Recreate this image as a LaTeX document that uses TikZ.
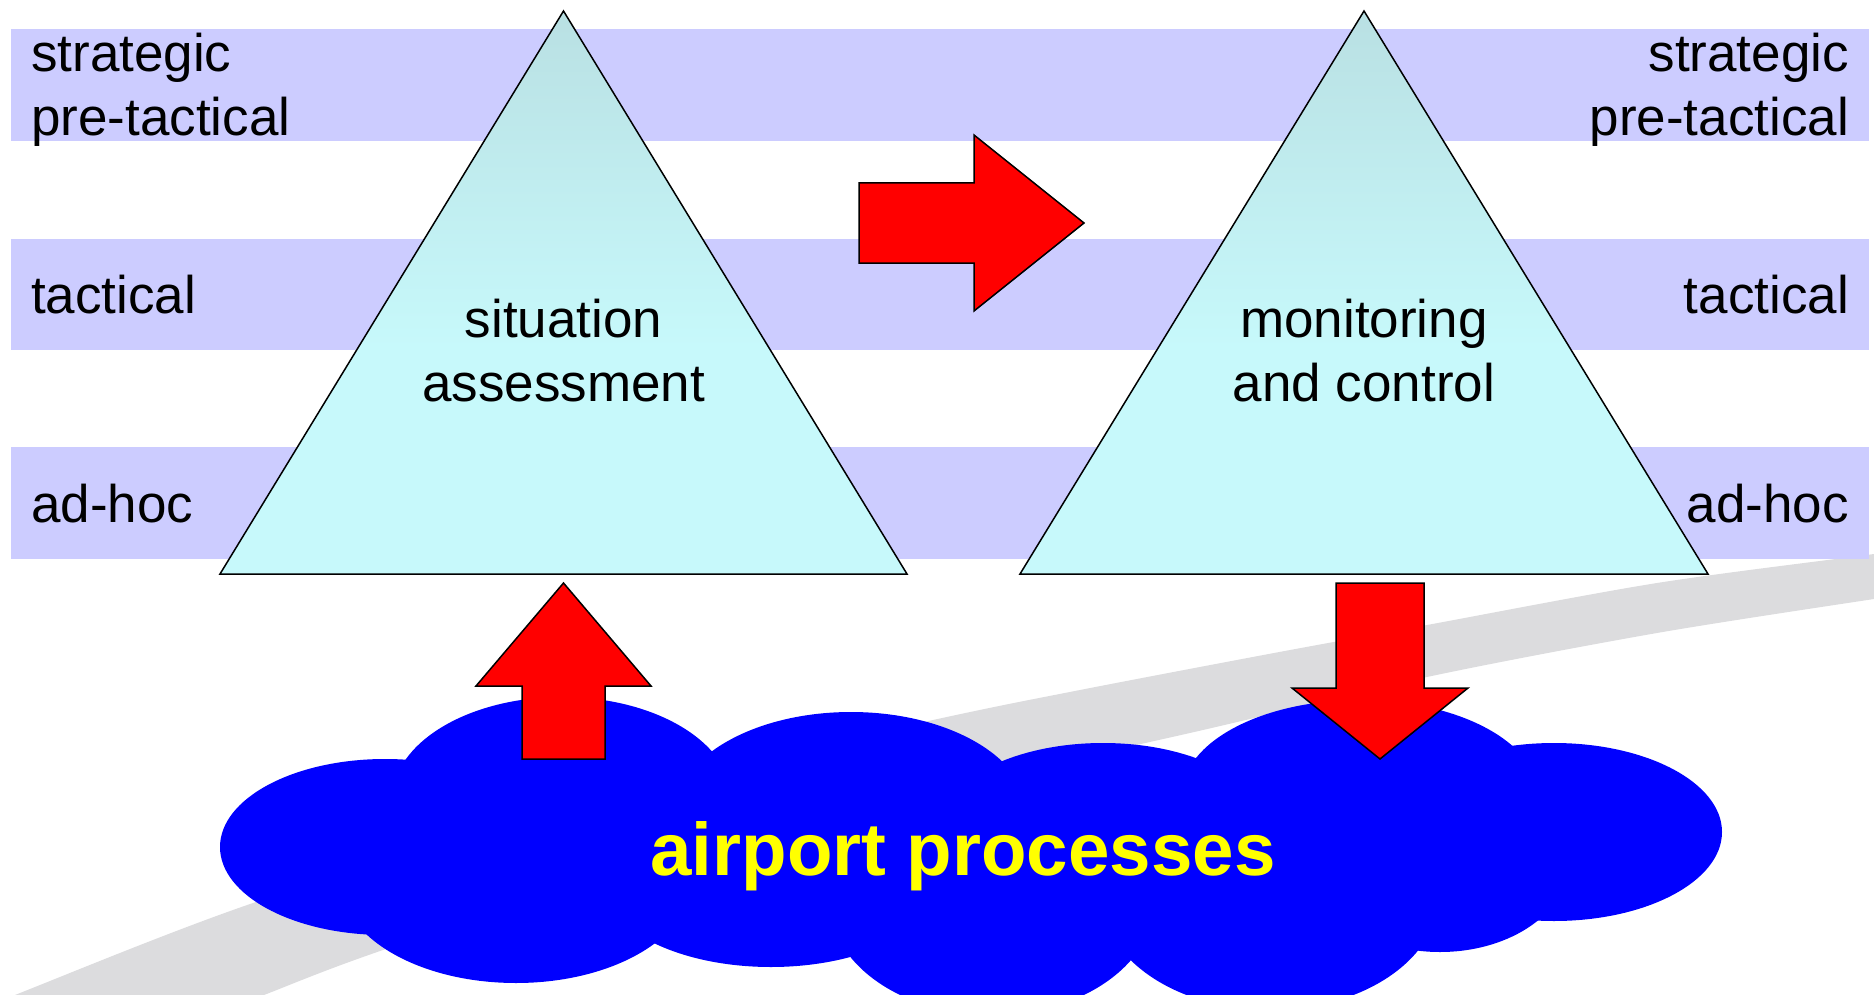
\documentclass[tikz,border=0pt]{standalone}
\usepackage{fontspec}
\setmainfont{Liberation Sans}
\usetikzlibrary{calc}
\definecolor{bandcol}{RGB}{204,204,255}
\definecolor{swoosh}{RGB}{220,220,222}
\definecolor{tritop}{RGB}{185,224,227}
\definecolor{tribot}{RGB}{199,249,251}
\definecolor{cloudblue}{RGB}{0,0,255}
\definecolor{arrowred}{RGB}{255,0,0}
\definecolor{procyellow}{RGB}{255,255,0}
\pgfdeclareverticalshading{trishade}{100bp}{color(0bp)=(tribot); color(45bp)=(tribot); color(75bp)=(tritop); color(100bp)=(tritop)}
\tikzset{
  band/.style={fill=bandcol},
  level/.style={font=\fontsize{53}{64}\selectfont, inner sep=0pt},
  tri/.style={shade, shading=trishade, draw=black, line width=1.5pt, line join=miter},
  blockarrow/.style={fill=arrowred, draw=black, line width=1.5pt, line join=miter},
  lump/.style={fill=cloudblue},
}
\begin{document}
\begin{tikzpicture}[x=1pt,y=-1pt]
\useasboundingbox (0,0) rectangle (1874,995);

% grey runway sweeping up to the right
\begin{scope}
  \clip (0,0) rectangle (1874,995);
  \fill[swoosh] plot[smooth] coordinates {(-50,1022) (15,995) (253,903) (600,795) (933,720) (1080,690) (1274,653) (1427,625) (1657,583) (1874,554) (1950,543)}
    -- plot[smooth] coordinates {(1950,588) (1874,599) (1657,633) (1427,677) (1203,730) (700,845) (383,950) (264,995) (200,1020)} -- cycle;
\end{scope}

% planning horizon bands
\fill[band] (11,29) rectangle (1869,141);
\fill[band] (11,239) rectangle (1869,350);
\fill[band] (11,447) rectangle (1869,559);

% the two triangles
\coordinate (saTop) at (563.5,11);
\coordinate (saLeft) at (220,574);
\coordinate (saRight) at (907,574);
\coordinate (mcTop) at (1364,11);
\coordinate (mcLeft) at (1020,574);
\coordinate (mcRight) at (1708,574);
\path[tri] (saTop) -- (saRight) -- (saLeft) -- cycle;
\path[tri] (mcTop) -- (mcRight) -- (mcLeft) -- cycle;

% horizon labels (base anchor sits on the last line)
\node[level, anchor=base west, align=left] (stratL) at (31,136) {strategic\\pre-tactical};
\node[level, anchor=base west] (tactL) at (31,313.8) {tactical};
\node[level, anchor=base west] (adhocL) at (31,522.4) {ad-hoc};
\node[level, anchor=base east, align=right] (stratR) at (1849,136) {strategic\\pre-tactical};
\node[level, anchor=base east] (tactR) at (1849,313.8) {tactical};
\node[level, anchor=base east] (adhocR) at (1849,522.4) {ad-hoc};

\node[level, anchor=base, align=center] (sa) at (563.5,401.8) {situation\\assessment};
\node[level, anchor=base, align=center] (mc) at (1364,401.8) {monitoring\\and control};

% cloud of airport processes
\fill[lump] (385,847) ellipse [x radius=165pt, y radius=88pt];
\fill[lump] (562,800) ellipse [x radius=170pt, y radius=103pt];
\fill[lump] (851,815) ellipse [x radius=177pt, y radius=103pt];
\fill[lump] (1103,830) ellipse [x radius=165pt, y radius=87pt];
\fill[lump] (1360,795) ellipse [x radius=178pt, y radius=95pt];
\fill[lump] (1554,832) ellipse [x radius=168pt, y radius=89pt];
\fill[lump] (516,880) ellipse [x radius=176pt, y radius=103pt];
\fill[lump] (771,880) ellipse [x radius=170pt, y radius=87pt];
\fill[lump] (992,900) ellipse [x radius=163pt, y radius=115pt];
\fill[lump] (1270,895) ellipse [x radius=169pt, y radius=115pt];
\fill[lump] (1440,860) ellipse [x radius=130pt, y radius=92pt];
\fill[lump] (960,850) ellipse [x radius=600pt, y radius=80pt];
\node[font=\fontsize{74.5}{80}\selectfont\bfseries, text=procyellow, anchor=base, inner sep=0pt] (proc) at (963,875) {airport processes};

% block arrows
\coordinate (flowTail) at (859,223);
\coordinate (flowTip) at (1084,223);
\draw[blockarrow] (flowTail) ++(0,-40) -- ++(115,0) -- ++(0,-48) -- (flowTip)
  -- ($(flowTail)+(115,88)$) -- ++(0,-48) -- ++(-115,0) -- cycle;

\coordinate (upTail) at (563.5,759);
\coordinate (upTip) at (563.5,583);
\draw[blockarrow] (upTail) ++(-41.5,0) -- ++(0,-73) -- ++(-46,0) -- (upTip)
  -- ($(upTail)+(87.5,-73)$) -- ++(-46,0) -- ++(0,73) -- cycle;

\coordinate (downTail) at (1380,583);
\coordinate (downTip) at (1380,759);
\draw[blockarrow] (downTail) ++(-44,0) -- ++(0,105) -- ++(-44,0) -- (downTip)
  -- ($(downTail)+(88,105)$) -- ++(-44,0) -- ++(0,-105) -- cycle;
\end{tikzpicture}
\end{document}
